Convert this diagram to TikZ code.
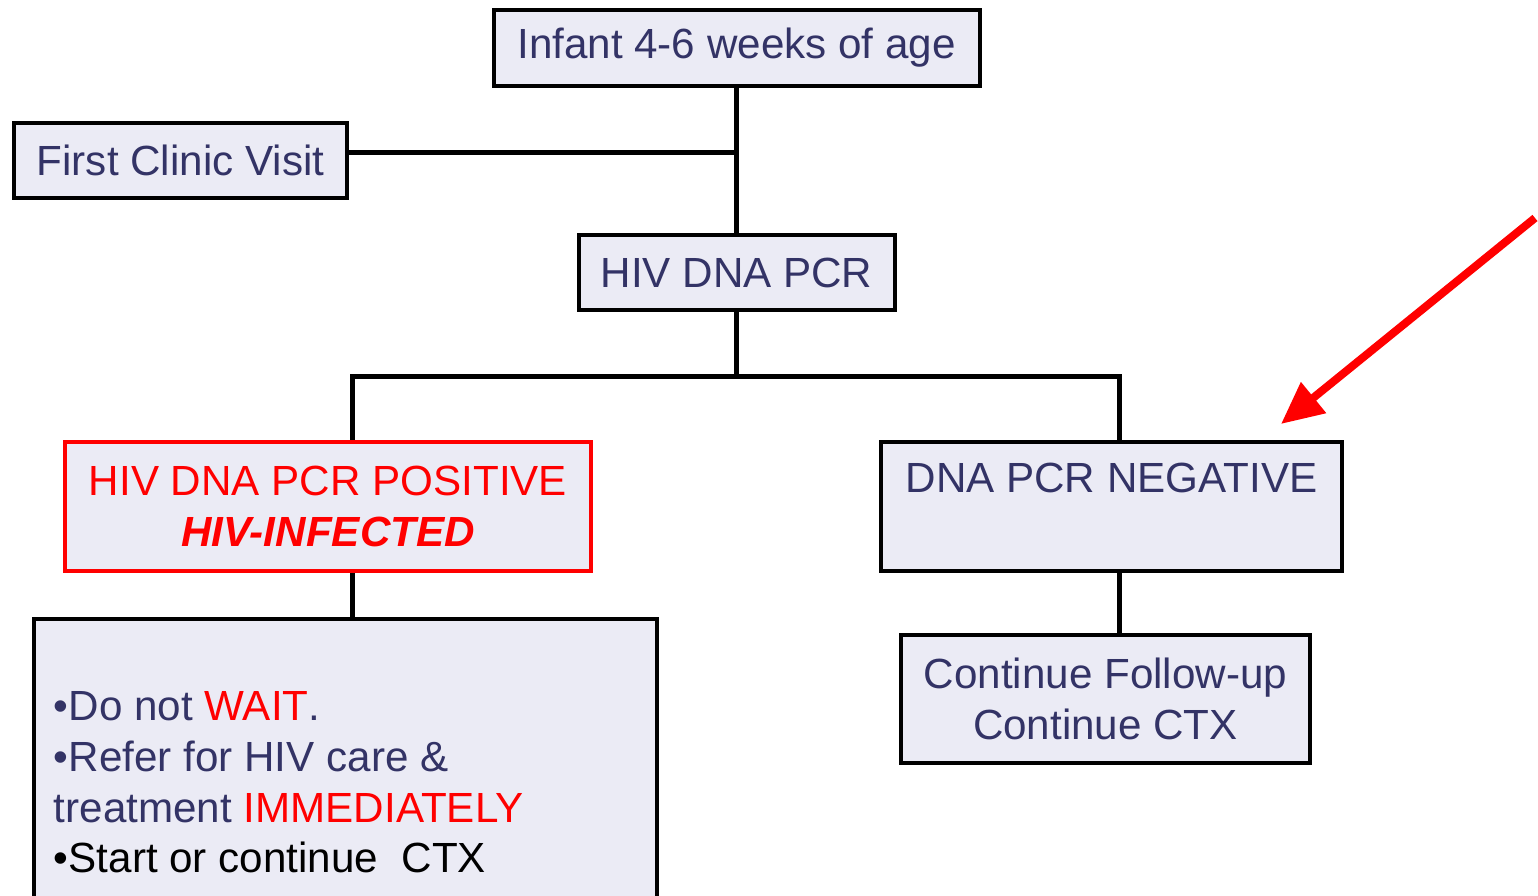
\documentclass[tikz,border=0pt]{standalone}
\usepackage{fontspec}
\setmainfont{Liberation Sans}
\usetikzlibrary{arrows.meta}
\definecolor{navy}{HTML}{333366}
\definecolor{boxfill}{HTML}{EBEBF5}
\begin{document}
\begin{tikzpicture}[y=-1cm,
  box/.style={draw=black, line width=0.04cm, fill=boxfill, inner sep=0pt, text=navy,
    font=\fontsize{12}{14.5}\selectfont, align=center},
  link/.style={line width=0.05cm}]
\useasboundingbox (0,0) rectangle (15.38,8.96);
% top of the tree
\node[box, minimum width=4.86cm, minimum height=0.76cm] (infant) at (7.365,0.48) {Infant 4-6 weeks of age};
\node[box, minimum width=3.33cm, minimum height=0.75cm] (clinic) at (1.805,1.605) {First Clinic Visit};
\node[box, minimum width=3.16cm, minimum height=0.75cm] (pcr) at (7.365,2.725) {HIV DNA PCR};
% results
\node[box, draw=red, text=red, minimum width=5.26cm, minimum height=1.29cm] (pos) at (3.28,5.065)
  {HIV DNA PCR POSITIVE\\\textbf{\textit{HIV-INFECTED}}};
\node[box, minimum width=4.61cm, minimum height=1.29cm] (neg) at (11.115,5.065) {};
\node[box, draw=none, fill=none, anchor=north] (negtext) at (11.115,4.61) {DNA PCR NEGATIVE};
% what to do next
\node[box, minimum width=6.23cm, minimum height=3.31cm] (todo) at (3.455,7.845) {};
\node[box, draw=none, fill=none, align=left, anchor=base west] (todotext) at (0.52,8.73)
  {\textbullet Do not {\color{red}WAIT}.\\
   \textbullet Refer for HIV care \&\\
   treatment {\color{red}IMMEDIATELY}\\
   {\color{black}\textbullet Start or continue\ \ CTX}};
\node[box, minimum width=4.09cm, minimum height=1.28cm] (cont) at (11.055,6.99)
  {Continue Follow-up\\Continue CTX};
% connectors
\coordinate (bus) at (7.365,3.77);
\draw[link] (infant) -- (pcr);
\draw[link] ([yshift=0.075cm]clinic.east) -- ([yshift=0.075cm]clinic.east -| infant.south);
\draw[link] (pcr) -- (bus);
\draw[link] ([xshift=0.24cm]pos.north) |- (bus) -| ([xshift=0.075cm]neg.north);
\draw[link] ([xshift=0.24cm]pos.south) -- ([xshift=0.24cm]pos.south |- todo.north);
\draw[link] ([xshift=0.075cm]neg.south) -- ([xshift=0.075cm]neg.south |- cont.north);
% red pointer
\coordinate (pointfrom) at (15.35,2.18);
\coordinate (pointto) at (12.81,4.24);
\draw[red, line width=0.08cm, -{Triangle[length=0.42cm,width=0.38cm]}] (pointfrom) -- (pointto);
\end{tikzpicture}
\end{document}
